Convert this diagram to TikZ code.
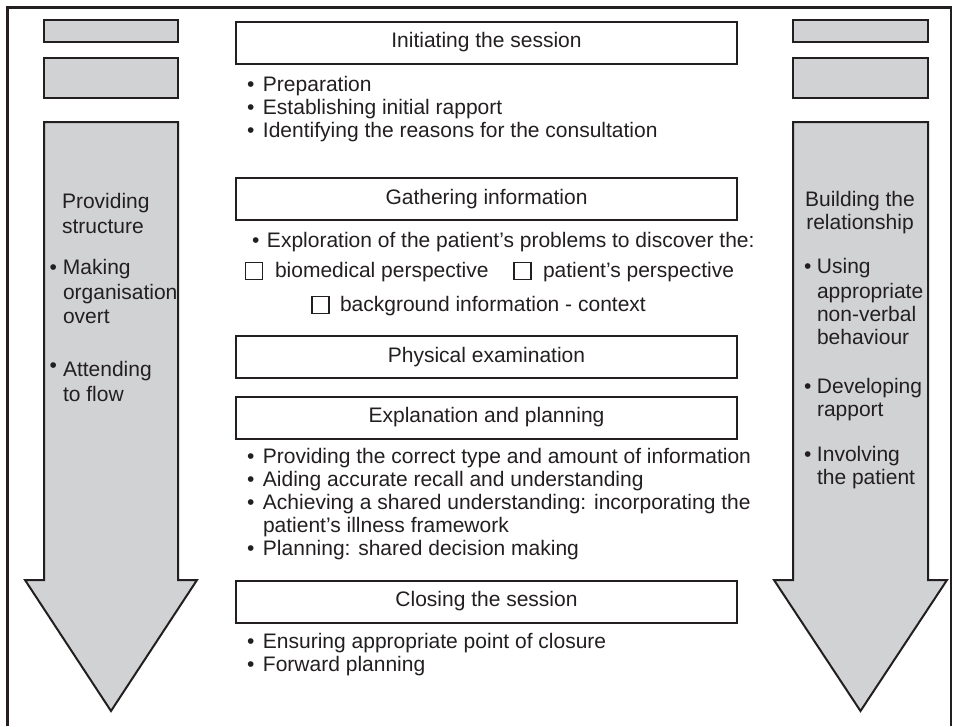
\documentclass[tikz,border=0pt]{standalone}
\usepackage{fontspec}
\setmainfont{Liberation Sans}
\definecolor{ink}{HTML}{231F20}
\definecolor{panel}{HTML}{D1D2D4}
\newcommand{\fs}{\fontsize{21}{24}\selectfont}
\newcommand{\bux}[1]{\makebox[#1][l]{\textbullet}}
\begin{document}
\begin{tikzpicture}[x=1pt,y=-1pt,
  gbox/.style={draw=ink, fill=panel, line width=2.8pt, inner sep=0pt, outer sep=0pt},
  wbox/.style={draw=ink, fill=white, line width=2pt, inner sep=0pt, outer sep=0pt,
     minimum width=501pt, minimum height=42pt, font=\fs, text=ink,
     text height=15pt, text depth=4.5pt},
  arrowshape/.style={draw=ink, fill=panel, line width=2pt, line join=miter},
  txt/.style={anchor=base west, inner sep=0pt, outer sep=0pt, font=\fs, text=ink},
  ctxt/.style={anchor=base, inner sep=0pt, outer sep=0pt, font=\fs, text=ink},
  cbox/.style={draw=ink, line width=1.8pt, minimum size=17pt, inner sep=0pt, outer sep=0pt}]
\useasboundingbox (0,0) rectangle (959,726);
\fill[white] (0,0) rectangle (959,726);
% frame
\draw[ink, line width=2.5pt] (7.5,726) -- (7.5,7.5) -- (951,7.5) -- (951,726);
% left column
\node[gbox, minimum width=134pt, minimum height=22pt] (lb1) at (111,31) {};
\node[gbox, minimum width=134pt, minimum height=40pt] (lb2) at (111,78) {};
\draw[arrowshape] (44,122) -- (178,122) -- (178,580) -- (197,580) -- (111,711) -- (25,580) -- (44,580) -- cycle;
% right column
\node[gbox, minimum width=135pt, minimum height=22pt] (rb1) at (860.5,31) {};
\node[gbox, minimum width=135pt, minimum height=40pt] (rb2) at (860.5,78) {};
\draw[arrowshape] (793,122) -- (928,122) -- (928,580) -- (947,580) -- (860.5,711) -- (774,580) -- (793,580) -- cycle;
% left arrow text
\node[txt] (l1) at (62,208) {Providing};
\node[txt] (l2) at (62,233) {structure};
\node[txt] (l3) at (49.5,274) {\bux{13.5pt}Making};
\node[txt] (l4) at (63,299) {organisation};
\node[txt] (l5) at (63,323) {overt};
\node[txt] (l6) at (49.5,376) {\makebox[13.5pt][l]{\raisebox{4pt}{\textbullet}}Attending};
\node[txt] (l7) at (63,401) {to flow};
% right arrow text
\node[ctxt] (r1) at (860,206) {Building the};
\node[ctxt] (r2) at (860,229) {relationship};
\node[txt] (r3) at (804,273) {\bux{13pt}Using};
\node[txt] (r4) at (817,298) {appropriate};
\node[txt] (r5) at (817,321) {non-verbal};
\node[txt] (r6) at (817,344) {behaviour};
\node[txt] (r7) at (804,393) {\bux{13pt}Developing};
\node[txt] (r8) at (817,416) {rapport};
\node[txt] (r9) at (804,461) {\bux{13pt}Involving};
\node[txt] (r10) at (817,484) {the patient};
% centre column
\node[wbox] (init) at (486.5,42.5) {Initiating the session};
\node[txt] (i1) at (247,91) {\bux{16pt}Preparation};
\node[txt] (i2) at (247,114) {\bux{16pt}Establishing initial rapport};
\node[txt] (i3) at (247,137) {\bux{16pt}Identifying the reasons for the consultation};
\node[wbox] (gath) at (486.5,199) {Gathering information};
\node[txt] (g1) at (252,247) {\bux{15pt}Exploration of the patient’s problems to discover the:};
\node[cbox] (c1) at (254,271) {};
\node[txt] (g2) at (275,277.5) {biomedical perspective};
\node[cbox] (c2) at (522.5,271) {};
\node[txt] (g3) at (543,277.5) {patient’s perspective};
\node[cbox] (c3) at (320.5,305) {};
\node[txt] (g4) at (340,311.5) {background information - context};
\node[wbox] (phys) at (486.5,357) {Physical examination};
\node[wbox] (expl) at (486.5,417.5) {Explanation and planning};
\node[txt] (e1) at (247,463) {\bux{16pt}Providing the correct type and amount of information};
\node[txt] (e2) at (247,486) {\bux{16pt}Aiding accurate recall and understanding};
\node[txt] (e3) at (247,509) {\bux{16pt}Achieving a shared understanding: incorporating the};
\node[txt] (e4) at (263,532) {patient’s illness framework};
\node[txt] (e5) at (247,555) {\bux{16pt}Planning: shared decision making};
\node[wbox] (clos) at (486.5,601.5) {Closing the session};
\node[txt] (s1) at (247,648) {\bux{16pt}Ensuring appropriate point of closure};
\node[txt] (s2) at (247,671) {\bux{16pt}Forward planning};
\end{tikzpicture}
\end{document}
